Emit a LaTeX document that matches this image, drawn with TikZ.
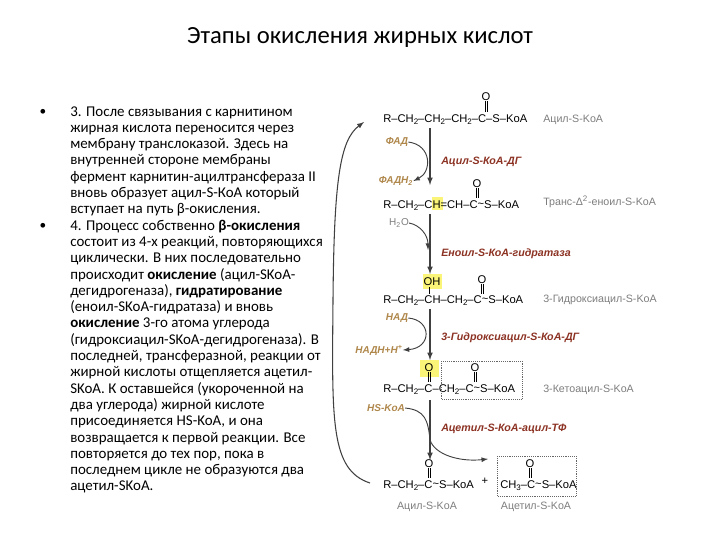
\documentclass[tikz,border=0pt]{standalone}
\usepackage{fontspec}
\setmainfont{Carlito}
\newfontfamily\chemf{Liberation Sans}
\definecolor{enz}{RGB}{140,50,35}
\definecolor{cof}{RGB}{175,135,75}
\definecolor{lab}{RGB}{125,125,125}
\definecolor{hl}{RGB}{250,245,120}
\newcommand{\ssub}[1]{\raisebox{-0.45ex}{\fontsize{6}{6}\selectfont #1}}
\newcommand{\tl}{\raisebox{0.1ex}{\textasciitilde}}
\begin{document}
\begin{tikzpicture}[x=0.75pt,y=-0.75pt,
  txt/.style={anchor=base west,inner sep=0pt,font=\fontsize{11.2}{12}\selectfont},
  chem/.style={anchor=base west,inner sep=0pt,font=\chemf\fontsize{8.4}{9}\selectfont},
  oxy/.style={inner sep=0pt,font=\chemf\fontsize{8.4}{9}\selectfont},
  enzl/.style={anchor=base west,inner sep=0pt,text=enz,font=\chemf\bfseries\itshape\fontsize{8}{9}\selectfont},
  cofl/.style={inner sep=0pt,text=cof,font=\chemf\bfseries\itshape\fontsize{7.5}{8}\selectfont},
  labl/.style={anchor=base west,inner sep=0pt,text=lab,font=\chemf\fontsize{8}{9}\selectfont},
  rarr/.style={draw=black!75,line width=0.9pt,-latex},
  carr/.style={draw=black!75,line width=0.7pt,-latex}]
\useasboundingbox (0,0) rectangle (720,540);
\node (title) at (360,37) {\fontsize{18.5}{20}\selectfont Этапы окисления жирных кислот};
% left text
\node (b1) at (43,112) {\fontsize{10}{10}\selectfont •};
\node (b2) at (43,226) {\fontsize{10}{10}\selectfont •};
\foreach \t [count=\i from 0] in {
3. После связывания с карнитином,
жирная кислота переносится через,
мембрану транслоказой. Здесь на,
внутренней стороне мембраны,
фермент карнитин-ацилтрансфераза II,
вновь образует ацил-S-КоА который,
вступает на путь β-окисления.,
{4. Процесс собственно \textbf{β-окисления}},
состоит из 4-х реакций{,} повторяющихся,
циклически. В них последовательно,
происходит \textbf{окисление} (ацил-SKoA-,
дегидрогеназа){,} \textbf{гидратирование},
(еноил-SKoA-гидратаза) и вновь,
\textbf{окисление} 3-го атома углерода,
(гидроксиацил-SKoA-дегидрогеназа). В,
последней{,} трансферазной{,} реакции от,
жирной кислоты отщепляется ацетил-,
SKoA. К оставшейся (укороченной на,
два углерода) жирной кислоте,
присоединяется HS-KoA{,} и она,
возвращается к первой реакции. Все,
повторяется до тех пор{,} пока в,
последнем цикле не образуются два,
ацетил-SKoA.}
{\node[txt] (l\i) at (70,{116+16.3*\i}) {\t};}
% highlights
\fill[hl] (432,197) rectangle (443,210);
\fill[hl] (423,274) rectangle (442,289);
\fill[hl] (420,360) rectangle (439,377);
% row 1
\node[chem] (r1) at (383,122) {R–CH\ssub2–CH\ssub2–CH\ssub2–C–S–KoA};
\node[oxy] (o1) at (486,97) {O};
\draw (485,101)--(485,112) (487,101)--(487,112);
\node[labl] (n1) at (543,122) {Ацил-S-KoA};
% row 2
\node[chem] (r2) at (383,208) {R–CH\ssub2–CH=CH–C\tl S–KoA};
\node[oxy] (o2) at (477,184) {O};
\draw (476,188)--(476,198) (478,188)--(478,198);
\node[labl] (n2) at (543,205) {Транс-Δ\textsuperscript{2}-еноил-S-KoA};
% row 3
\node[oxy] (oh) at (432,282) {OH};
\draw (429,287)--(429,294);
\node[chem] (r3) at (383,303) {R–CH\ssub2–CH–CH\ssub2–C\tl S–KoA};
\node[oxy] (o3) at (482,280) {O};
\draw (481,284)--(481,294) (483,284)--(483,294);
\node[labl] (n3) at (543,302) {3-Гидроксиацил-S-KoA};
% row 4
\node[oxy] (o4a) at (429,368) {O};
\draw (428,372)--(428,382) (430,372)--(430,382);
\node[chem] (r4) at (383,392) {R–CH\ssub2–C–CH\ssub2–C\tl S–KoA};
\node[oxy] (o4b) at (475,368) {O};
\draw (474,372)--(474,382) (476,372)--(476,382);
\draw[densely dotted,draw=black!60] (441,361) rectangle (522,399);
\node[labl] (n4) at (543,392) {3-Кетоацил-S-KoA};
% row 5
\node[chem] (r5) at (383,488) {R–CH\ssub2–C\tl S–KoA};
\node[oxy] (o5) at (429,464) {O};
\draw (428,468)--(428,478) (430,468)--(430,478);
\node[oxy] (plus) at (485,481) {+};
\draw[densely dotted,draw=black!60] (497,456) rectangle (576,496);
\node[chem] (r6) at (500,488) {CH\ssub3–C\tl S–KoA};
\node[oxy] (o6) at (530,464) {O};
\draw (529,468)--(529,478) (531,468)--(531,478);
\node[inner sep=0pt,text=lab,font=\chemf\fontsize{8}{9}\selectfont] (n5) at (427,507) {Ацил-S-KoA};
\node[inner sep=0pt,text=lab,font=\chemf\fontsize{8}{9}\selectfont] (n6) at (536,507) {Ацетил-S-KoA};
% main arrows
\coordinate (a1) at (430,128); \coordinate (a1e) at (430,185);
\coordinate (a2) at (430,214); \coordinate (a2e) at (430,274);
\coordinate (a3) at (430,309); \coordinate (a3e) at (430,360);
\coordinate (a4) at (430,400); \coordinate (a4e) at (430,460);
\draw[rarr] (a1)--(a1e); \draw[rarr] (a2)--(a2e);
\draw[rarr] (a3)--(a3e); \draw[rarr] (a4)--(a4e);
% enzymes
\node[enzl] (e1) at (441,164) {Ацил-S-КоА-ДГ};
\node[enzl] (e2) at (441,256) {Еноил-S-КоА-гидратаза};
\node[enzl] (e3) at (441,340) {3-Гидроксиацил-S-КоА-ДГ};
\node[enzl] (e4) at (441,431) {Ацетил-S-КоА-ацил-ТФ};
% cofactors
\node[cofl] (c1) at (397,142) {ФАД};
\node[cofl] (c2) at (396,181) {ФАДН\textsubscript{2}};
\draw[carr] (c1.east) .. controls (432,145) and (432,172) .. (c2.east);
\node[inner sep=0pt,text=lab,font=\chemf\fontsize{7.5}{8}\selectfont] (c3) at (399,223) {H\textsubscript{2}O};
\draw[carr] (c3.east) .. controls (420,225) and (428,235) .. (428,250);
\node[cofl] (c4) at (397,318) {НАД};
\node[cofl] (c5) at (379,350) {НАДН+Н\textsuperscript{+}};
\draw[carr] (c4.east) .. controls (432,320) and (432,348) .. (c5.east);
\node[cofl] (c6) at (386,408) {HS-KoA};
\draw[carr] (c6.east) .. controls (425,410) and (428,420) .. (430,440)
  .. controls (435,455) and (460,462) .. (488,459);
% return arrow
\coordinate (ret1) at (370,483);
\coordinate (ret2) at (364,122);
\draw[carr,line width=0.8pt] (ret1) .. controls (330,470) and (332,420) .. (333,300)
  .. controls (334,180) and (340,140) .. (ret2);
\end{tikzpicture}
\end{document}
